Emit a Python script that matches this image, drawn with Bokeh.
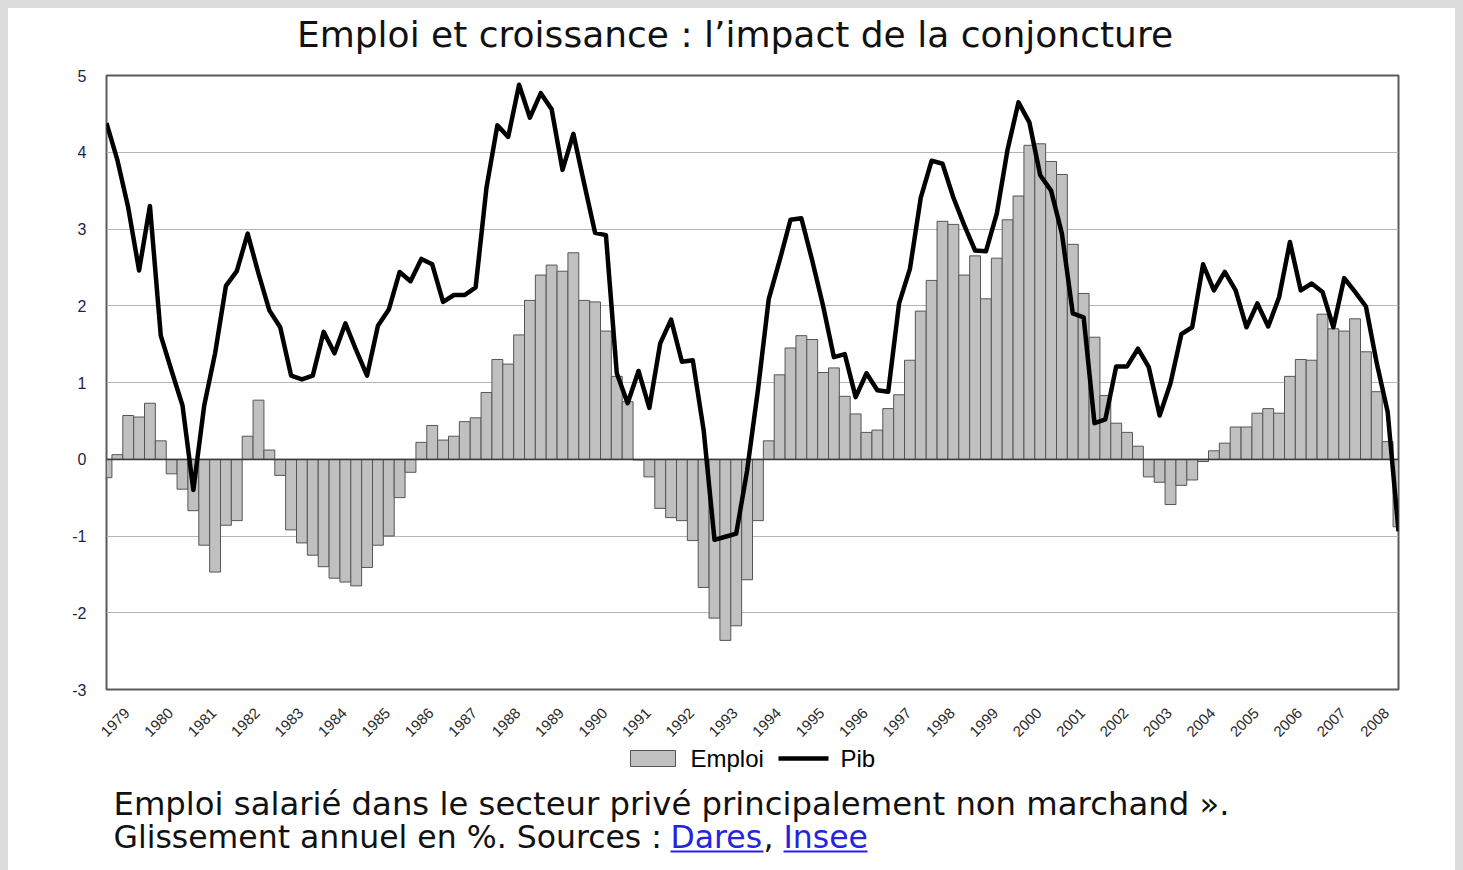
import math
from bokeh.plotting import figure
from bokeh.layouts import column
from bokeh.models import Range1d, FixedTicker, ColumnDataSource
from bokeh.core.properties import value
from bokeh.embed import file_html
from bokeh.resources import INLINE

# ---------------- data (quarterly, 1979 Q1 .. 2008 Q4) ----------------
years = ["1979", "1980", "1981", "1982", "1983", "1984", "1985", "1986", "1987",
         "1988", "1989", "1990", "1991", "1992", "1993", "1994", "1995", "1996",
         "1997", "1998", "1999", "2000", "2001", "2002", "2003", "2004", "2005",
         "2006", "2007", "2008"]

emploi = [
    -0.24, 0.06, 0.57, 0.55, 0.73, 0.24, -0.19, -0.39, -0.67, -1.12,
    -1.47, -0.86, -0.80, 0.30, 0.77, 0.12, -0.21, -0.92, -1.09, -1.25,
    -1.40, -1.55, -1.60, -1.65, -1.41, -1.12, -1.00, -0.50, -0.17, 0.22,
    0.44, 0.25, 0.30, 0.49, 0.54, 0.87, 1.30, 1.24, 1.62, 2.07,
    2.40, 2.53, 2.45, 2.69, 2.07, 2.05, 1.67, 1.08, 0.75, -0.01,
    -0.23, -0.64, -0.76, -0.80, -1.06, -1.67, -2.07, -2.36, -2.17, -1.57,
    -0.80, 0.24, 1.10, 1.45, 1.61, 1.56, 1.13, 1.19, 0.82, 0.59,
    0.35, 0.38, 0.66, 0.84, 1.29, 1.93, 2.33, 3.10, 3.06, 2.40,
    2.65, 2.09, 2.62, 3.12, 3.43, 4.09, 4.11, 3.88, 3.71, 2.80,
    2.16, 1.59, 0.83, 0.47, 0.35, 0.17, -0.23, -0.30, -0.59, -0.34,
    -0.27, -0.03, 0.11, 0.21, 0.42, 0.42, 0.60, 0.66, 0.60, 1.08,
    1.30, 1.29, 1.89, 1.70, 1.67, 1.83, 1.40, 0.88, 0.23, -0.88,
]

pib = [
    4.38, 3.90, 3.28, 2.46, 3.30, 1.61, 1.15, 0.70, -0.40, 0.70,
    1.38, 2.26, 2.45, 2.94, 2.42, 1.94, 1.72, 1.09, 1.04, 1.09,
    1.66, 1.38, 1.77, 1.42, 1.09, 1.74, 1.95, 2.44, 2.32, 2.61,
    2.54, 2.05, 2.14, 2.14, 2.24, 3.54, 4.35, 4.20, 4.88, 4.45,
    4.77, 4.56, 3.77, 4.24, 3.59, 2.95, 2.92, 1.12, 0.73, 1.15,
    0.67, 1.51, 1.82, 1.27, 1.29, 0.38, -1.05, -1.01, -0.97, -0.15,
    0.90, 2.09, 2.59, 3.12, 3.14, 2.59, 2.00, 1.33, 1.37, 0.81,
    1.12, 0.90, 0.88, 2.03, 2.48, 3.41, 3.89, 3.85, 3.41, 3.05,
    2.72, 2.71, 3.20, 4.04, 4.65, 4.39, 3.70, 3.50, 2.94, 1.90,
    1.85, 0.47, 0.52, 1.21, 1.21, 1.44, 1.20, 0.57, 0.99, 1.63,
    1.72, 2.54, 2.20, 2.44, 2.20, 1.72, 2.03, 1.73, 2.11, 2.83,
    2.20, 2.29, 2.18, 1.72, 2.36, 2.18, 1.99, 1.25, 0.62, -0.94,
]

y_ticks = [-3, -2, -1, 0, 1, 2, 3, 4, 5]
y_labels = ["-3", "-2", "-1", "0", "1", "2", "3", "4", "5"]

title_text = "Emploi et croissance : l\u2019impact de la conjoncture"
legend_labels = ["Emploi", "Pib"]
caption_1 = "Emploi salari\u00e9 dans le secteur priv\u00e9 principalement non marchand \u00bb."
caption_2 = "Glissement annuel en %. Sources :"
link_1 = "Dares"
link_2 = "Insee"

# ---------------- layout constants (page pixels) ----------------
N = len(emploi)
PAD = 8
BORDER_L, FRAME_W, BORDER_R = 98, 1292, 57      # frame spans page x 106 .. 1398
FRAME_X0 = PAD + BORDER_L
HEAD_TOP, HEAD_H = PAD, 52                       # header:  page y 8 .. 60
CH_TOP = HEAD_TOP + HEAD_H                       # chart:   page y 60 .. 742
CH_BT, CH_FH, CH_BB = 15, 614, 53                # frame:   page y 75 .. 689
FOOT_TOP = CH_TOP + CH_BT + CH_FH + CH_BB        # footer:  page y 742 .. 870
FOOT_H = 870 - FOOT_TOP
FOOT_NUDGE = 2                                   # measured offset of footer content

BAR_FILL, BAR_LINE = "#c0c0c0", "#555555"
TXT = "#111111"
LINK = "#2323e0"


def strip(height):
    """A text-only figure whose frame has the chart's horizontal extent,
    with one data unit per pixel and y growing downwards."""
    s = figure(frame_width=FRAME_W, frame_height=height,
               min_border_left=BORDER_L, min_border_right=BORDER_R,
               min_border_top=0, min_border_bottom=0,
               x_range=Range1d(0, FRAME_W), y_range=Range1d(height, 0),
               x_axis_location=None, y_axis_location=None,
               output_backend="svg", toolbar_location=None, title=None)
    s.grid.visible = False
    s.outline_line_color = None
    s.background_fill_color = "white"
    s.border_fill_color = "white"
    return s


# ---------------- header (title) ----------------
h = strip(HEAD_H)
h.text(x=[734.5 - FRAME_X0], y=[46 - 12.5 - HEAD_TOP], text=[title_text],
       text_font=value("DejaVu Sans"), text_font_size="36px",
       text_align="center", text_baseline="middle", text_color=TXT)

# ---------------- chart ----------------
src = ColumnDataSource(dict(x=list(range(N)), emploi=emploi, pib=pib))

p = figure(frame_width=FRAME_W, frame_height=CH_FH,
           min_border_left=BORDER_L, min_border_right=BORDER_R,
           min_border_top=CH_BT, min_border_bottom=CH_BB,
           x_range=Range1d(0, N - 1), y_range=Range1d(y_ticks[0], y_ticks[-1]),
           output_backend="svg", toolbar_location=None, title=None)

p.background_fill_color = "white"
p.border_fill_color = "white"
p.outline_line_color = "#5a5a5a"
p.outline_line_width = 2

p.xgrid.grid_line_color = None
p.ygrid.ticker = FixedTicker(ticks=y_ticks)
p.ygrid.grid_line_color = "#b4b4b4"
p.ygrid.grid_line_width = 1.2

p.yaxis.ticker = FixedTicker(ticks=y_ticks)
p.yaxis.major_label_overrides = {t: l for t, l in zip(y_ticks, y_labels)}
p.yaxis.axis_line_color = None
p.yaxis.major_tick_line_color = None
p.yaxis.minor_tick_line_color = None
p.yaxis.major_label_text_font = "Liberation Sans"
p.yaxis.major_label_text_font_size = "16px"
p.yaxis.major_label_text_color = "#1c1f4a"
p.yaxis.major_label_standoff = 14

year_pos = [1.9 + 4 * k for k in range(len(years))]
p.xaxis.ticker = FixedTicker(ticks=year_pos)
p.xaxis.major_label_overrides = {pos: y for pos, y in zip(year_pos, years)}
p.xaxis.major_label_orientation = math.pi / 4
p.xaxis.axis_line_color = None
p.xaxis.major_tick_line_color = None
p.xaxis.minor_tick_line_color = None
p.xaxis.major_label_text_font = "Liberation Sans"
p.xaxis.major_label_text_font_size = "15px"
p.xaxis.major_label_text_color = "#2a2a2a"
p.xaxis.major_label_standoff = 15

p.vbar(x="x", top="emploi", bottom=0, width=1.0, source=src,
       fill_color=BAR_FILL, line_color=BAR_LINE, line_width=1)
p.hspan(y=[0], line_color="#3a3a3a", line_width=1.5)
p.line("x", "pib", source=src, line_color="black", line_width=4.5,
       line_join="round")

# ---------------- footer (legend + caption) ----------------
f = strip(FOOT_H)


def fx(page_x):
    return page_x - FRAME_X0


def fy(page_y):
    return page_y - FOOT_TOP - FOOT_NUDGE


# legend keys
f.quad(left=[fx(630)], right=[fx(675)], top=[fy(750)], bottom=[fy(766)],
       fill_color=BAR_FILL, line_color=BAR_LINE, line_width=1)
f.segment(x0=[fx(778)], x1=[fx(828)], y0=[fy(758)], y1=[fy(758)],
          line_color="black", line_width=4.5)
f.text(x=[fx(690), fx(840)], y=[fy(758), fy(758)], text=legend_labels,
       text_font=value("Liberation Sans"), text_font_size="24px",
       text_align="left", text_baseline="middle", text_color="black")

# caption
CAP_FONT = value("DejaVu Sans")
f.text(x=[fx(113)], y=[fy(814 - 11)], text=[caption_1], text_font=CAP_FONT,
       text_font_size="32.3px", text_align="left", text_baseline="middle",
       text_color=TXT)
f.text(x=[fx(113)], y=[fy(847 - 11)], text=[caption_2], text_font=CAP_FONT,
       text_font_size="31.5px", text_align="left", text_baseline="middle",
       text_color=TXT)
f.text(x=[fx(670), fx(783)], y=[fy(847 - 11)] * 2, text=[link_1, link_2],
       text_font=CAP_FONT, text_font_size="31.5px", text_align="left",
       text_baseline="middle", text_color=LINK)
f.text(x=[fx(763)], y=[fy(847 - 11)], text=[","], text_font=CAP_FONT,
       text_font_size="31.5px", text_align="left", text_baseline="middle",
       text_color=TXT)
f.segment(x0=[fx(670), fx(783)], x1=[fx(763), fx(867)],
          y0=[fy(851)] * 2, y1=[fy(851)] * 2, line_color=LINK, line_width=2)

layout = column(h, p, f, spacing=0)

html = file_html(layout, INLINE, title="Emploi et croissance")
extra_css = ("<style>html,body{background:#ffffff !important;}"
             "body{padding:0 !important;border-style:solid;"
             "border-color:#dcdcdc;border-width:8px 8px 0 8px;}</style>")
html = html.replace("</head>", extra_css + "</head>", 1)
open("out.html", "w").write(html)
